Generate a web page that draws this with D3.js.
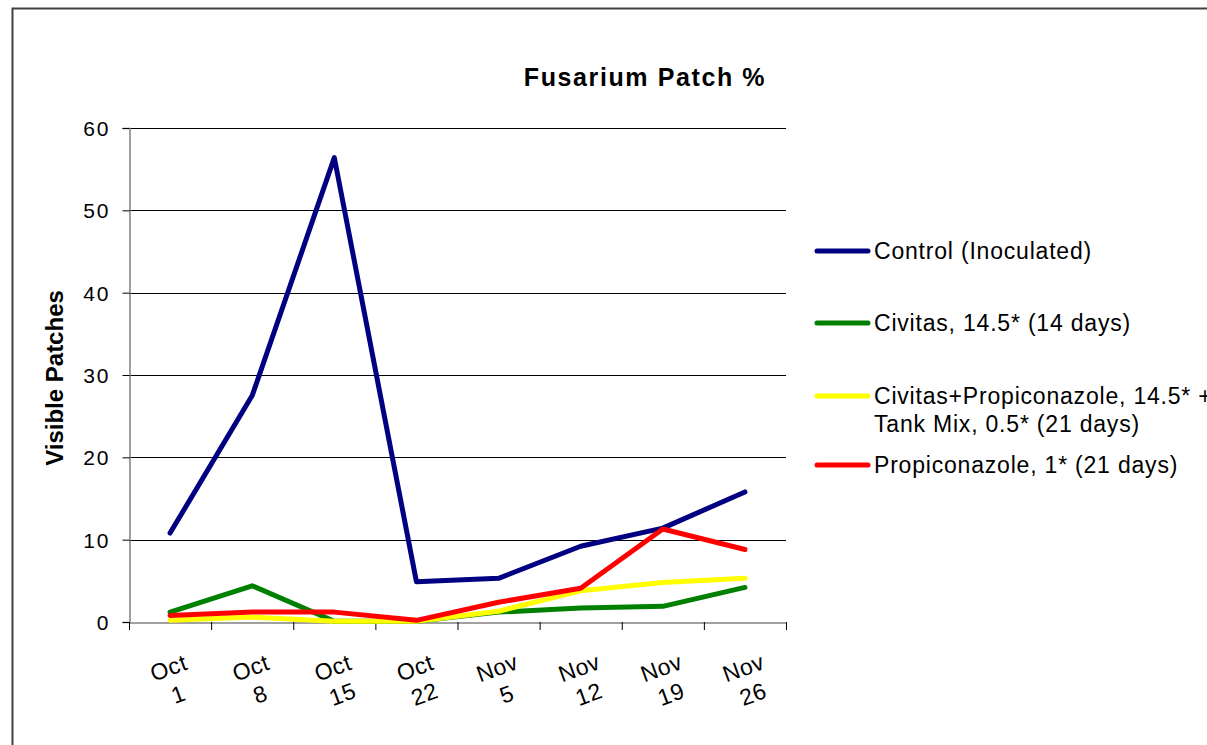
<!DOCTYPE html>
<html>
<head>
<meta charset="utf-8">
<script src="https://cdn.jsdelivr.net/npm/d3@7"></script>
<style>
  body { margin: 0; background: #fff; overflow: hidden; }
  svg { display: block; }
  text { font-family: "Liberation Sans", Arial, sans-serif; fill: #000; }
</style>
</head>
<body>
<div class="chart"></div>
<script>
var dates = ["Oct|1", "Oct|8", "Oct|15", "Oct|22", "Nov|5", "Nov|12", "Nov|19", "Nov|26"];
var yTicks = [0, 10, 20, 30, 40, 50, 60];

var control = [10.8, 27.5, 56.4, 4.9, 5.3, 9.2, 11.4, 15.8];
var civitas = [1.2, 4.4, 0.1, 0.1, 1.2, 1.7, 1.9, 4.2];
var civitasProp = [0.2, 0.6, 0.1, 0.1, 1.3, 3.8, 4.8, 5.3];
var propiconazole = [0.8, 1.2, 1.2, 0.2, 2.4, 4.1, 11.3, 8.8];

var seriesNames = ["Control (Inoculated)", "Civitas, 14.5* (14 days)",
  "Civitas+Propiconazole, 14.5* +|Tank Mix, 0.5* (21 days)", "Propiconazole, 1* (21 days)"];
var seriesColors = ["#000080", "#008000", "#ffff00", "#ff0000"];
var seriesValues = [control, civitas, civitasProp, propiconazole];

var W = 1207, H = 745;
var plot = {left: 129, right: 786, top: 128, bottom: 622};

var svg = d3.select(".chart")
  .append("svg")
  .attr("width", W)
  .attr("height", H);

// outer chart border (runs off the right and bottom edges)
svg.append("rect")
  .attr("x", 12.5).attr("y", 8.5)
  .attr("width", W + 20).attr("height", H + 20)
  .style("fill", "none")
  .style("stroke", "#404040")
  .style("stroke-width", 2);

var x = d3.scaleBand().domain(d3.range(dates.length)).range([plot.left, plot.right]);
var y = d3.scaleLinear().domain([0, 60]).range([plot.bottom, plot.top]);

// gridlines
svg.append("g").selectAll("line")
  .data(yTicks.filter(function(d) { return d > 0; }))
  .enter().append("line")
  .attr("x1", plot.left).attr("x2", plot.right)
  .attr("y1", function(d) { return Math.round(y(d)) + 0.5; })
  .attr("y2", function(d) { return Math.round(y(d)) + 0.5; })
  .style("stroke", "#000").style("stroke-width", 1);

// y axis
var yAxis = svg.append("g")
  .attr("transform", "translate(" + (plot.left + 0.5) + ",0)")
  .call(d3.axisLeft(y).tickValues(yTicks).tickSize(7).tickPadding(12));
yAxis.select(".domain").style("stroke", "#808080").style("stroke-width", 1.5);
yAxis.selectAll(".tick line").style("stroke", "#000");
yAxis.selectAll(".tick text")
  .attr("font-family", null)
  .attr("dy", "0.36em")
  .style("font-size", "21px")
  .style("letter-spacing", "2px");

// x axis
var xAxis = svg.append("g")
  .attr("transform", "translate(0," + (plot.bottom + 0.5) + ")")
  .call(d3.axisBottom(x).tickSize(0).tickFormat(""));
xAxis.select(".domain").style("stroke", "#808080").style("stroke-width", 1.5);
xAxis.selectAll(".tick").remove();

// category tick marks on band boundaries
svg.append("g").selectAll("line")
  .data(d3.range(dates.length + 1))
  .enter().append("line")
  .attr("x1", function(i) { return plot.left + i * x.step() + 0.5; })
  .attr("x2", function(i) { return plot.left + i * x.step() + 0.5; })
  .attr("y1", plot.bottom).attr("y2", plot.bottom + 8)
  .style("stroke", "#000");

// x labels, rotated
var xl = svg.append("g").selectAll("g")
  .data(dates)
  .enter().append("g")
  .attr("transform", function(d, i) {
    return "translate(" + (x(i) + x.bandwidth() / 2 + 3) + ",680) rotate(-20)";
  });
xl.append("text")
  .attr("text-anchor", "middle")
  .attr("y", -5)
  .style("font-size", "23px")
  .style("letter-spacing", "0.5px")
  .text(function(d) { return d.split("|")[0]; });
xl.append("text")
  .attr("text-anchor", "middle")
  .attr("y", 23)
  .style("font-size", "23px")
  .style("letter-spacing", "0.5px")
  .text(function(d) { return d.split("|")[1]; });

// lines
var line = d3.line()
  .x(function(d, i) { return x(i) + x.bandwidth() / 2; })
  .y(function(d) { return y(d); });

svg.append("g").selectAll("path")
  .data(seriesValues)
  .enter().append("path")
  .attr("d", line)
  .style("fill", "none")
  .style("stroke", function(d, i) { return seriesColors[i]; })
  .style("stroke-width", 5)
  .style("stroke-linejoin", "round")
  .style("stroke-linecap", "round");

// title
svg.append("text")
  .attr("x", 645).attr("y", 86)
  .attr("text-anchor", "middle")
  .style("font-size", "25px").style("font-weight", "bold")
  .style("letter-spacing", "1.6px")
  .text("Fusarium Patch %");

// y title
svg.append("text")
  .attr("transform", "translate(63,378) rotate(-90)")
  .attr("text-anchor", "middle")
  .style("font-size", "24px").style("font-weight", "bold")
  .text("Visible Patches");

// legend
var legendY = [251, 323, 396, 465];
var lg = svg.append("g").selectAll("g")
  .data(seriesNames)
  .enter().append("g")
  .attr("transform", function(d, i) { return "translate(817," + legendY[i] + ")"; });
lg.append("line")
  .attr("x1", 0).attr("x2", 51)
  .style("stroke", function(d, i) { return seriesColors[i]; })
  .style("stroke-width", 5)
  .style("stroke-linecap", "round");
lg.each(function(d) {
  var parts = d.split("|");
  var t = d3.select(this).append("text")
    .attr("x", 57).attr("y", 8)
    .style("font-size", "23px")
    .style("letter-spacing", "0.8px");
  parts.forEach(function(p, k) {
    t.append("tspan").attr("x", 57).attr("dy", k === 0 ? 0 : 28).text(p);
  });
});
</script>
</body>
</html>
